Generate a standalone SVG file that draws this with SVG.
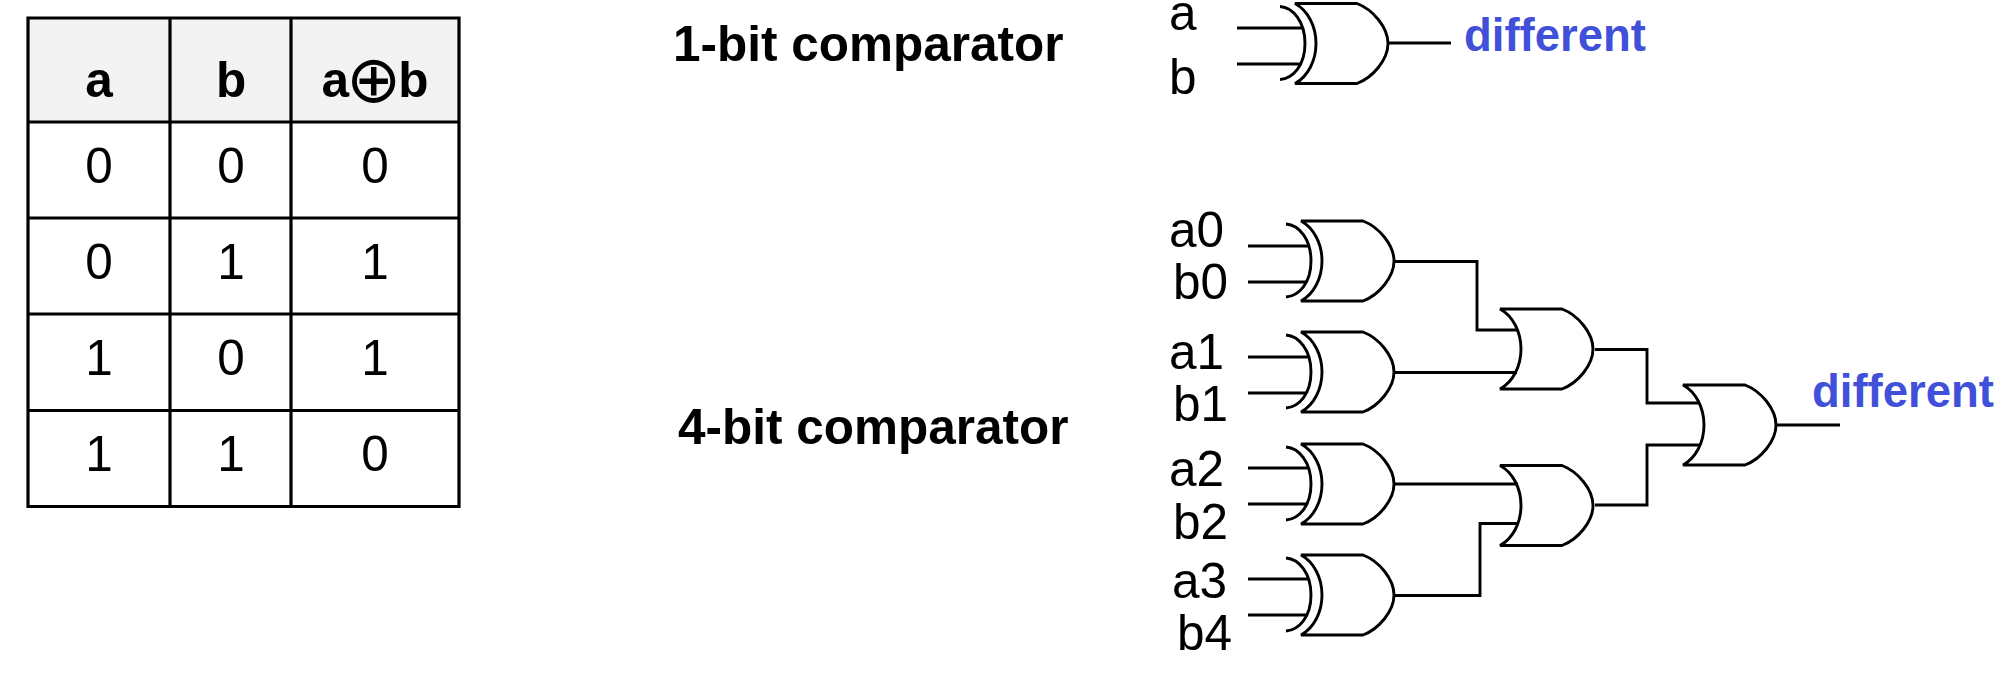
<svg xmlns="http://www.w3.org/2000/svg" width="2005" height="680" viewBox="0 0 2005 680">
<style>
text{font-family:"Liberation Sans",Arial,sans-serif;font-size:49.5px;fill:#000}
.b{font-weight:bold}
.m{text-anchor:middle}
.d{font-weight:bold;font-size:45.5px;fill:#4150d8}
.g{fill:none;stroke:#000;stroke-width:2.9}
.t{fill:none;stroke:#000;stroke-width:3.2}
</style>
<defs>
<path id="or" d="M0 0H62C78 6 93 24 93 40C93 56 78 74 62 80H0C13 73 21 57 21 40C21 23 13 7 0 0Z"/>
<path id="arc" d="M-15 3C-2 4 10 18 10 40C10 62-2 75-15 76"/>
</defs>
<rect width="2005" height="680" fill="#fff"/>
<g id="truth-table">
<rect x="28" y="18" width="431" height="104" fill="#f3f3f3"/>
<path class="t" d="M28 18H459V506.500H28ZM170 18V506.500M291 18V506.500M28 122H459M28 218H459M28 314H459M28 410.500H459"/>
<text class="b m" x="99" y="97">a</text>
<text class="b m" x="231" y="97">b</text>
<text class="b m" x="375" y="97">a<tspan font-family="DejaVu Sans" font-weight="normal" font-size="66" dx="-3" dy="5">⊕</tspan><tspan dx="-3" dy="-5">b</tspan></text>
<text class="m" x="99" y="183">0</text><text class="m" x="231" y="183">0</text><text class="m" x="375" y="183">0</text>
<text class="m" x="99" y="279">0</text><text class="m" x="231" y="279">1</text><text class="m" x="375" y="279">1</text>
<text class="m" x="99" y="375">1</text><text class="m" x="231" y="375">0</text><text class="m" x="375" y="375">1</text>
<text class="m" x="99" y="471">1</text><text class="m" x="231" y="471">1</text><text class="m" x="375" y="471">0</text>
</g>
<g id="title-1bit"><text class="b" x="673" y="61">1-bit comparator</text></g>
<g id="title-4bit"><text class="b" x="678" y="444">4-bit comparator</text></g>
<g id="labels">
<text x="1169" y="30">a</text><text x="1169" y="94">b</text>
<text x="1169" y="247">a0</text><text x="1173" y="299">b0</text>
<text x="1169" y="369">a1</text><text x="1173" y="421">b1</text>
<text x="1169" y="486">a2</text><text x="1173" y="539">b2</text>
<text x="1172" y="598">a3</text><text x="1177" y="650">b4</text>
<text class="d" x="1464" y="51">different</text>
<text class="d" x="1812" y="407">different</text>
</g>
<g id="xor-1bit" class="g" transform="translate(1295 3.500)"><use href="#or"/><use href="#arc"/></g>
<g id="xor0" class="g" transform="translate(1301 221)"><use href="#or"/><use href="#arc"/></g>
<g id="xor1" class="g" transform="translate(1301 332)"><use href="#or"/><use href="#arc"/></g>
<g id="xor2" class="g" transform="translate(1301 444)"><use href="#or"/><use href="#arc"/></g>
<g id="xor3" class="g" transform="translate(1301 555)"><use href="#or"/><use href="#arc"/></g>
<g id="or0" class="g" transform="translate(1500 309)"><use href="#or"/></g>
<g id="or1" class="g" transform="translate(1500 465.500)"><use href="#or"/></g>
<g id="or2" class="g" transform="translate(1683 385)"><use href="#or"/></g>
<g id="connectors" class="g">
<path d="M1237 28H1303M1237 64H1301M1388 43H1451"/>
<path d="M1248 246H1309M1248 282H1307M1248 357H1309M1248 393H1307M1248 468H1309M1248 504H1307M1248 579H1309M1248 615H1307"/>
<path d="M1394 261.500H1477V330H1518M1394 372.500H1517M1394 484H1518M1394 595.500H1480V523.500H1517"/>
<path d="M1595 349.500H1647V403H1698M1595 505H1647V445H1700M1777 425H1840"/>
</g>
</svg>
